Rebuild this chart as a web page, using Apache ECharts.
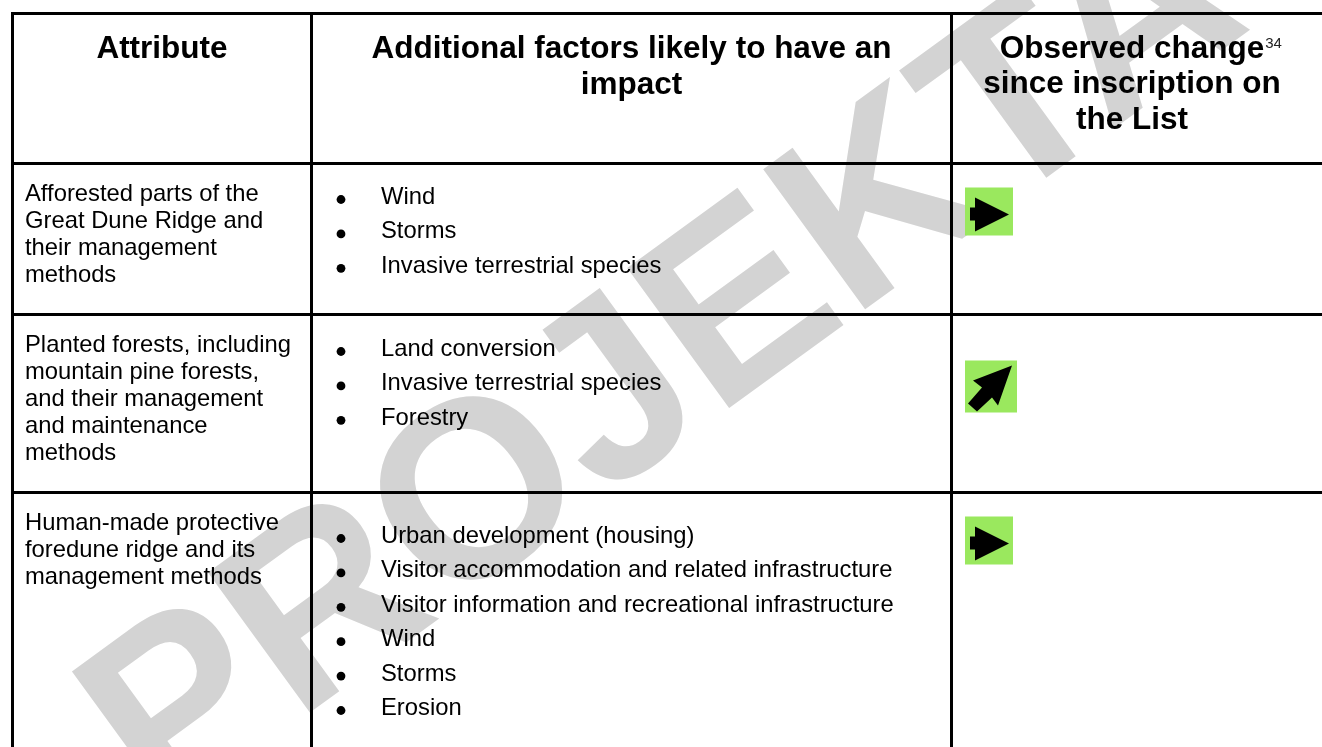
<!DOCTYPE html>
<html>
<head>
<meta charset="utf-8">
<script src="https://cdn.jsdelivr.net/npm/echarts@6/dist/echarts.min.js"></script>
<style>
    html, body { margin: 0; padding: 0; background: #fff; }
    #main { width: 1322px; height: 747px; }
</style>
</head>
<body>
<div id="main"></div>
<script>
    // table content
    var headers = ['Attribute', 'Additional factors likely to have an\nimpact', 'Observed change'];
    var headerNote = '34';
    var headerTail = ['since inscription on', 'the List'];
    var attributes = [
        'Afforested parts of the\nGreat Dune Ridge and\ntheir management\nmethods',
        'Planted forests, including\nmountain pine forests,\nand their management\nand maintenance\nmethods',
        'Human-made protective\nforedune ridge and its\nmanagement methods'
    ];
    var factors = [
        ['Wind', 'Storms', 'Invasive terrestrial species'],
        ['Land conversion', 'Invasive terrestrial species', 'Forestry'],
        ['Urban development (housing)', 'Visitor accommodation and related infrastructure',
            'Visitor information and recreational infrastructure', 'Wind', 'Storms', 'Erosion']
    ];
    var trends = ['stable', 'improving', 'stable'];
    var watermark = 'PROJEKTAS';

    // layout
    var W = 1322, H = 747;
    var FONT = '"Liberation Sans", Arial, sans-serif';
    var colX = [12.5, 311.5, 951.5];
    var col3Center = 1132;
    var rowTops = [13.5, 163.5, 314.5, 492.5];
    var listDy = [34, 35, 44];
    var iconX = 965;
    var iconDy = [24, 46, 24];
    var green = '#9ae85e';

    var arrowShapes = {
        stable: {size: 48, pts: [[5, 20], [10, 20], [10, 10], [44, 27], [10, 44], [10, 33], [5, 33]]},
        improving: {size: 52, pts: [[47, 5], [33, 45], [27, 37], [12, 51], [3, 43], [17, 27], [8, 20]]}
    };

    var chart = echarts.init(document.getElementById('main'), null, {renderer: 'canvas'});

    function merge(a, b) { for (var k in b) { a[k] = b[k]; } return a; }

    function renderRow(params, api) {
        var r = api.value(0);
        var top = rowTops[r];
        var bottom = r + 1 < rowTops.length ? rowTops[r + 1] : H + 10;
        var children = [];

        function pt(x, y) { return api.coord([x, y]); }
        function line(x1, y1, x2, y2) {
            var a = pt(x1, y1), b = pt(x2, y2);
            children.push({type: 'line', shape: {x1: a[0], y1: a[1], x2: b[0], y2: b[1]},
                style: {stroke: '#000', lineWidth: 3}});
        }

        line(colX[0] - 1.5, top, W + 20, top);
        colX.forEach(function (x) { line(x, top, x, bottom); });

        if (r === 0) {
            var hy = top + 18.5;
            var p1 = pt((colX[0] + colX[1]) / 2, hy);
            var p2 = pt((colX[1] + colX[2]) / 2, hy);
            var p3 = pt(col3Center, hy - 0.5);
            var hs = {fontSize: 31.5, fontWeight: 'bold', fontFamily: FONT, lineHeight: 35.5, fill: '#000'};
            [[headers[0], p1], [headers[1], p2]].forEach(function (h) {
                children.push({type: 'text', style: merge({text: h[0], x: h[1][0], y: h[1][1],
                    align: 'center', verticalAlign: 'top'}, hs)});
            });
            var sup = {fontSize: 15, fontFamily: FONT, fill: '#222', lineHeight: 15, verticalAlign: 'top', padding: [5, 0, 0, 1]};
            children.push({type: 'text', style: {
                text: '{g|' + headerNote + '}{h|' + headers[2] + '}{s|' + headerNote + '}\n{h|' + headerTail[0] + '}\n{h|' + headerTail[1] + '}',
                x: p3[0], y: p3[1], align: 'center', verticalAlign: 'top',
                rich: {h: hs, s: sup, g: merge(merge({}, sup), {fill: 'rgba(0,0,0,0)'})}
            }});
        } else {
            var i = r - 1;
            var pa = pt(colX[0] + 12.5, top + 17.5);
            children.push({type: 'text', style: {text: attributes[i], x: pa[0], y: pa[1],
                fontSize: 23.8, fontFamily: FONT, lineHeight: 27, fill: '#000', align: 'left', verticalAlign: 'top'}});

            factors[i].forEach(function (f, k) {
                var cy = top + listDy[i] + k * 34.4;
                var pb = pt(341, cy + 2);
                children.push({type: 'circle', shape: {cx: pb[0], cy: pb[1], r: 4.4}, style: {fill: '#000'}});
                var pf = pt(381, cy);
                children.push({type: 'text', style: {text: f, x: pf[0], y: pf[1],
                    fontSize: 23.8, fontFamily: FONT, fill: '#000', align: 'left', verticalAlign: 'middle'}});
            });

            var shape = arrowShapes[trends[i]];
            var o = pt(iconX, top + iconDy[i]);
            var e = pt(iconX + shape.size, top + iconDy[i] + shape.size);
            children.push({type: 'rect', shape: {x: o[0], y: o[1], width: e[0] - o[0], height: e[1] - o[1]},
                style: {fill: green}});
            children.push({type: 'polygon', shape: {points: shape.pts.map(function (p) {
                return pt(iconX + p[0], top + iconDy[i] + p[1]);
            })}, style: {fill: '#000'}});
        }
        return {type: 'group', children: children};
    }

    chart.setOption({
        animation: false,
        grid: {left: 0, right: 0, top: 0, bottom: 0},
        xAxis: {type: 'value', min: 0, max: W, show: false},
        yAxis: {type: 'value', min: 0, max: H, inverse: true, show: false},
        graphic: [{
            type: 'text', x: 735, y: 318, rotation: 36 * Math.PI / 180, z: 0, silent: true,
            style: {text: watermark, font: 'bold 252px "Liberation Sans"', fill: '#d3d3d3',
                align: 'center', verticalAlign: 'middle'}
        }],
        series: [{
            type: 'custom',
            coordinateSystem: 'cartesian2d',
            z: 5,
            renderItem: renderRow,
            data: rowTops.map(function (t, r) { return [r, 0]; })
        }]
    });
</script>
</body>
</html>
